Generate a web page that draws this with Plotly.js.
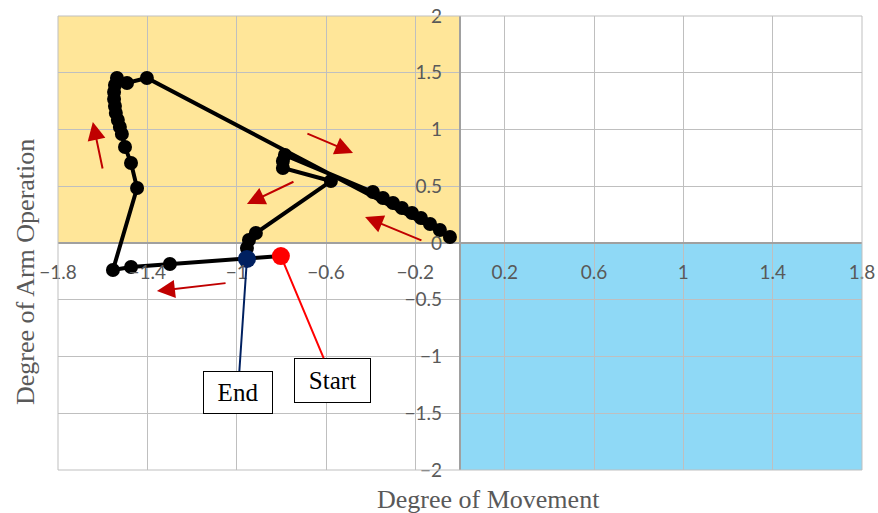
<!DOCTYPE html>
<html>
<head>
<meta charset="utf-8">
<script src="https://cdn.plot.ly/plotly-3.0.1.min.js"></script>
<style>html,body{margin:0;padding:0;background:#fff;}#chart{width:878px;height:513px;}</style>
</head>
<body>
<div id="chart"></div>
<script>
// Trajectory: degree of movement (x) vs degree of arm operation (y)
const pathX = [-0.802, -1.299, -1.473, -1.554, -1.446, -1.473, -1.500, -1.514, -1.523, -1.532, -1.541, -1.545, -1.549, -1.549, -1.545, -1.536, -1.491, -1.402,
               -0.045, -0.090, -0.134, -0.175, -0.215, -0.260, -0.300, -0.345, -0.390,
               -0.784, -0.793, -0.793, -0.578, -0.914, -0.945, -0.954, -0.954];
const pathY = [-0.115, -0.185, -0.211, -0.238, 0.485, 0.705, 0.846, 0.960, 1.022, 1.084, 1.145, 1.207, 1.269, 1.330, 1.392, 1.454, 1.410, 1.454,
               0.053, 0.115, 0.167, 0.220, 0.264, 0.308, 0.352, 0.396, 0.449,
               0.775, 0.722, 0.661, 0.546, 0.088, 0.026, -0.044, -0.141];
const startPt = {x: -0.802, y: -0.115};
const endPt = {x: -0.954, y: -0.141};

// Direction arrows: tail -> head
const arrowTailX = [-1.599, -0.690, -0.739, -0.166, -1.043];
const arrowTailY = [0.643, 0.969, 0.546, 0.018, -0.352];
const arrowHeadX = [-1.644, -0.479, -0.954, -0.425, -1.357];
const arrowHeadY = [1.066, 0.793, 0.344, 0.229, -0.423];

const xTitle = 'Degree of Movement';
const yTitle = 'Degree of Arm Operation';

const tickFont = {family: 'Lato, "Open Sans", sans-serif', size: 19, color: '#595959'};
const serif = 'Liberation Serif, "DejaVu Serif", serif';

const traces = [
  {x: pathX, y: pathY, type: 'scatter', mode: 'lines+markers',
   line: {color: '#000000', width: 4}, marker: {color: '#000000', size: 14},
   hoverinfo: 'skip', showlegend: false},
  {x: [startPt.x], y: [startPt.y], type: 'scatter', mode: 'markers',
   marker: {color: '#FF0000', size: 18}, showlegend: false},
  {x: [endPt.x], y: [endPt.y], type: 'scatter', mode: 'markers',
   marker: {color: '#002060', size: 18}, showlegend: false}
];

const annotations = [];
for (let i = 0; i < arrowTailX.length; i++) {
  annotations.push({x: arrowHeadX[i], y: arrowHeadY[i], ax: arrowTailX[i], ay: arrowTailY[i],
    xref: 'x', yref: 'y', axref: 'x', ayref: 'y', text: '', showarrow: true,
    arrowhead: 2, arrowsize: 1.8, arrowwidth: 2, arrowcolor: '#C00000', standoff: 0});
}
annotations.push({x: startPt.x, y: startPt.y, xref: 'x', yref: 'y', text: 'Start',
  showarrow: true, arrowhead: 0, arrowwidth: 2, arrowcolor: '#FF0000', ax: 52, ay: 124,
  font: {family: serif, size: 25, color: '#000'}, bgcolor: '#fff', bordercolor: '#000',
  borderwidth: 1, borderpad: 0, width: 75, height: 43, standoff: 0});
annotations.push({x: endPt.x, y: endPt.y, xref: 'x', yref: 'y', text: 'End',
  showarrow: true, arrowhead: 0, arrowwidth: 2, arrowcolor: '#002060', ax: -9, ay: 133,
  font: {family: serif, size: 25, color: '#000'}, bgcolor: '#fff', bordercolor: '#000',
  borderwidth: 1, borderpad: 0, width: 68, height: 41, standoff: 0});
annotations.push({x: 0.536, y: -0.066, xref: 'paper', yref: 'paper', text: xTitle, showarrow: false,
  xanchor: 'center', yanchor: 'middle', font: {family: serif, size: 26, color: '#595959'}});
annotations.push({x: -0.041, y: 0.436, xref: 'paper', yref: 'paper', text: yTitle, showarrow: false,
  textangle: -90, xanchor: 'center', yanchor: 'middle', font: {family: serif, size: 26, color: '#595959'}});

const layout = {
  width: 878, height: 513,
  margin: {l: 58, r: 16, t: 16, b: 43},
  paper_bgcolor: '#ffffff', plot_bgcolor: '#ffffff',
  showlegend: false,
  xaxis: {range: [-1.8, 1.8], tick0: -1.8, dtick: 0.4, tickmode: 'linear',
    showgrid: true, gridcolor: '#BFBFBF', gridwidth: 1,
    zeroline: true, zerolinecolor: '#A0A0A0', zerolinewidth: 1.5,
    anchor: 'free', position: 0.5, showline: false, ticks: '',
    ticklabelstandoff: 16, tickfont: tickFont, fixedrange: true},
  yaxis: {range: [-2, 2], tick0: -2, dtick: 0.5, tickmode: 'linear',
    showgrid: true, gridcolor: '#BFBFBF', gridwidth: 1,
    zeroline: true, zerolinecolor: '#A0A0A0', zerolinewidth: 1.5,
    anchor: 'free', position: 0.5, showline: false, ticks: '',
    ticklabelstandoff: 18, tickfont: tickFont, fixedrange: true},
  shapes: [
    {type: 'rect', xref: 'x', yref: 'y', x0: -1.8, x1: 0, y0: 0, y1: 2,
     fillcolor: '#FFE699', line: {width: 0}, layer: 'below'},
    {type: 'rect', xref: 'x', yref: 'y', x0: 0, x1: 1.8, y0: -2, y1: 0,
     fillcolor: '#8FD9F6', line: {width: 0}, layer: 'below'},
    {type: 'rect', xref: 'paper', yref: 'paper', x0: 0, x1: 1, y0: 0, y1: 1,
     fillcolor: 'rgba(0,0,0,0)', line: {color: '#BFBFBF', width: 1}, layer: 'above'}
  ],
  annotations: annotations
};

Plotly.newPlot('chart', traces, layout, {displayModeBar: false, staticPlot: true});
</script>
</body>
</html>
